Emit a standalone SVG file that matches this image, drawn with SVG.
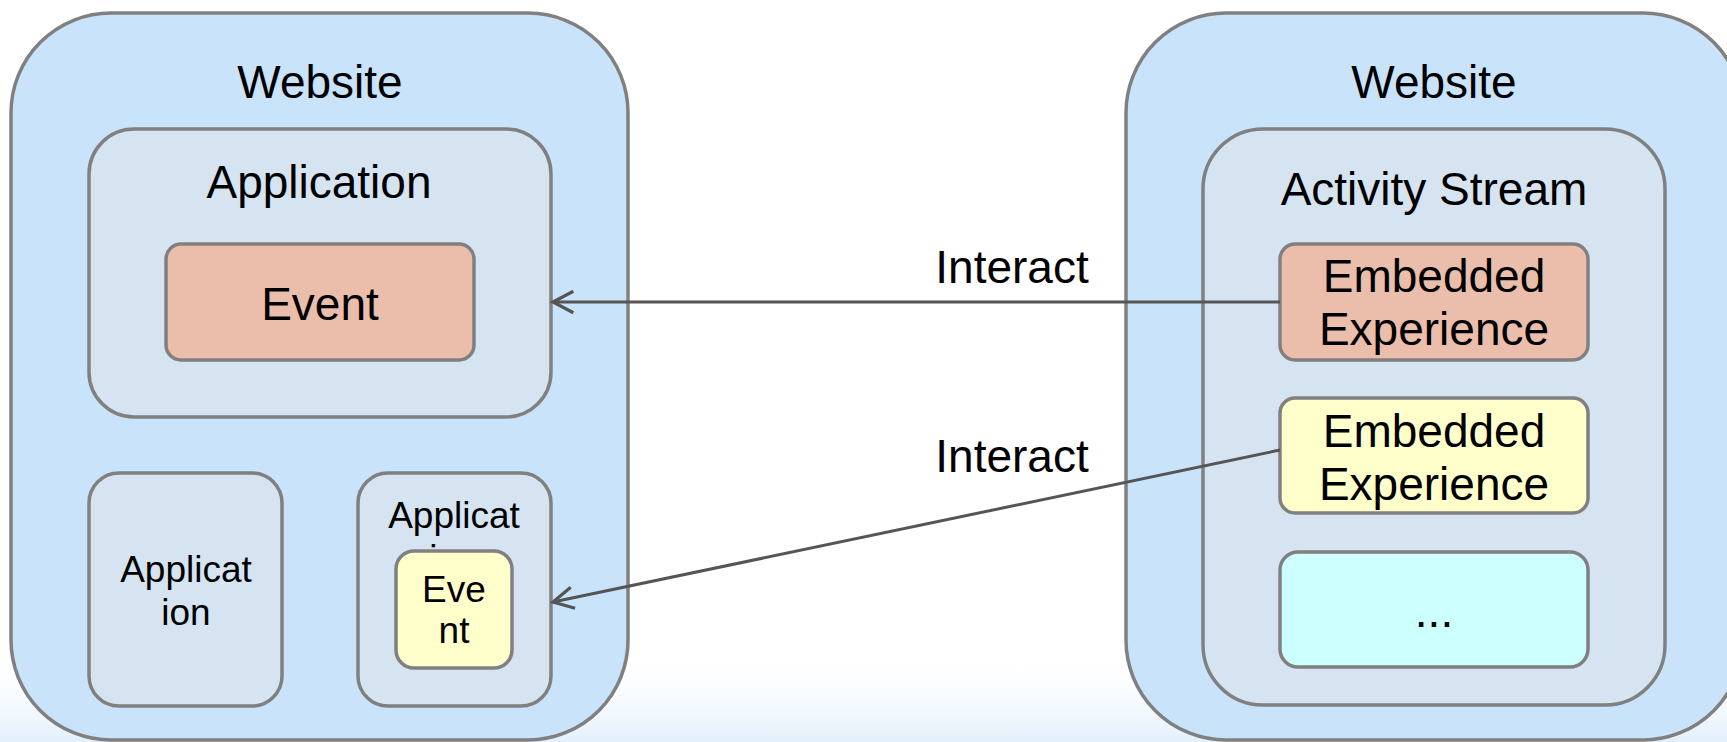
<svg xmlns="http://www.w3.org/2000/svg" width="1727" height="742" viewBox="0 0 1727 742">
<style>
.box{stroke:#808080;stroke-width:3.5}
.site{fill:#C9E3FB}
.inner{fill:#D6E4F2}
.salmon{fill:#EBBEAC}
.yellow{fill:#FFFFCC}
.cyan{fill:#CCFFFF}
text{font-family:"Liberation Sans",Arial,sans-serif;fill:#000;text-anchor:middle}
.big{font-size:46px}
.small{font-size:37px}
.conn{stroke:#555555;stroke-width:3;fill:none}
</style>
<defs>
<marker id="open" markerUnits="userSpaceOnUse" orient="auto" markerWidth="30" markerHeight="30" refX="0" refY="0" viewBox="-24 -14 28 28" overflow="visible">
<path d="M-19,-10 L0,0 L-19,10" fill="none" stroke="#555555" stroke-width="3"/>
</marker>
<linearGradient id="bottomfade" x1="0" y1="0" x2="0" y2="1">
<stop offset="0" stop-color="#FFFFFF" stop-opacity="0"/>
<stop offset="1" stop-color="#E3F0FC"/>
</linearGradient>
</defs>
<rect x="0" y="0" width="1727" height="742" fill="#FFFFFF"/>
<rect x="0" y="650" width="1727" height="92" fill="url(#bottomfade)"/>
<g id="website-left">
<rect class="box site" x="11" y="13" width="617" height="727" rx="100"/>
<text class="big" x="320" y="98">Website</text>
</g>
<g id="application-main">
<rect class="box inner" x="89" y="129" width="462" height="288" rx="45"/>
<text class="big" x="319" y="198">Application</text>
</g>
<g id="event-main">
<rect class="box salmon" x="166" y="244" width="308" height="116" rx="15"/>
<text class="big" x="320" y="320">Event</text>
</g>
<g id="application-bl">
<rect class="box inner" x="89" y="473" width="193" height="233" rx="30"/>
<text class="small" x="186" y="582">Applicat</text>
<text class="small" x="186" y="625">ion</text>
</g>
<g id="application-br">
<rect class="box inner" x="358" y="473" width="193" height="233" rx="30"/>
<text class="small" x="454" y="528">Applicat</text>
<text class="small" x="454" y="571">ion</text>
</g>
<g id="event-small">
<rect class="box yellow" x="396" y="551" width="116" height="117" rx="18"/>
<text class="small" x="454" y="602">Eve</text>
<text class="small" x="454" y="643">nt</text>
</g>
<g id="website-right">
<rect class="box site" x="1126" y="13" width="617" height="727" rx="100"/>
<text class="big" x="1434" y="98">Website</text>
</g>
<g id="activity-stream">
<rect class="box inner" x="1203" y="129" width="462" height="576" rx="60"/>
<text class="big" x="1434" y="205">Activity Stream</text>
</g>
<g id="embedded-1">
<rect class="box salmon" x="1280" y="244" width="308" height="116" rx="15"/>
<text class="big" x="1434" y="292">Embedded</text>
<text class="big" x="1434" y="345">Experience</text>
</g>
<g id="embedded-2">
<rect class="box yellow" x="1280" y="398" width="308" height="115" rx="15"/>
<text class="big" x="1434" y="447">Embedded</text>
<text class="big" x="1434" y="500">Experience</text>
</g>
<g id="more">
<rect class="box cyan" x="1280" y="552" width="308" height="115" rx="18"/>
<text class="big" x="1434" y="627">...</text>
</g>
<g id="connectors">
<line class="conn" x1="1280" y1="302" x2="553" y2="302" marker-end="url(#open)"/>
<text class="big" x="1012" y="283">Interact</text>
<line class="conn" x1="1280" y1="450" x2="553" y2="602" marker-end="url(#open)"/>
<text class="big" x="1012" y="472">Interact</text>
</g>
</svg>
